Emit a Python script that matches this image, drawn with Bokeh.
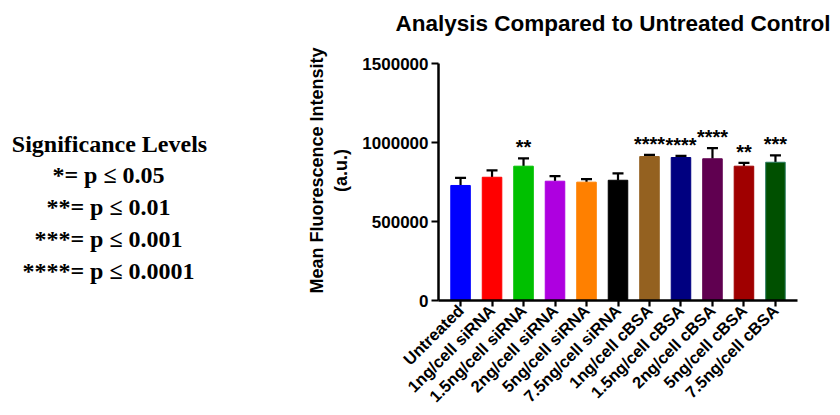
from math import pi
from bokeh.plotting import figure
from bokeh.layouts import row
from bokeh.models import (FactorRange, Whisker, TeeHead, ColumnDataSource, Label,
                          FixedTicker, NumeralTickFormatter, Range1d)
from bokeh.embed import file_html
from bokeh.resources import INLINE
from bokeh.core.properties import value

categories = ["Untreated", "1ng/cell siRNA", "1.5ng/cell siRNA", "2ng/cell siRNA",
              "5ng/cell siRNA", "7.5ng/cell siRNA", "1ng/cell cBSA", "1.5ng/cell cBSA",
              "2ng/cell cBSA", "5ng/cell cBSA", "7.5ng/cell cBSA"]
means = [728000, 780000, 850000, 755000, 749000, 761000, 911000, 905000, 897000, 850000, 875000]
errors = [48000, 43000, 50000, 32000, 19000, 43000, 11000, 10000, 67000, 21000, 43000]
stars = ["", "", "**", "", "", "", "****", "****", "****", "**", "***"]
colors = ["#0000FF", "#FF0000", "#00C000", "#AE00E0", "#FF8000", "#000000",
          "#946120", "#000080", "#600050", "#A00000", "#005000"]
edge_colors = ["#0000FF", "#FF0000", "#00C000", "#AE00E0", "#FF8000", "#000000",
               "#946120", "#000080", "#600050", "#A00000", "#2A7A60"]
y_ticks = [0, 500000, 1000000, 1500000]
y_max = 1500000
legend_title = "Significance Levels"
legend_lines = ["*= p \u2264 0.05", "**= p \u2264 0.01", "***= p \u2264 0.001", "****= p \u2264 0.0001"]

H = 415
LEFT_W, MAIN_W = 300, 540
FONT = "Liberation Sans"
SERIF = "Liberation Serif"

# layout geometry (pixels from top of page)
FRAME_TOP = 40        # plot frame top (extra room above the axis for the title)
AXIS_TOP = 63         # where y_max sits
FRAME_BOTTOM = 300    # where 0 sits
y_end = y_max * (FRAME_BOTTOM - FRAME_TOP) / (FRAME_BOTTOM - AXIS_TOP)

# ---- left panel: significance legend (frame is aligned with the main frame) ----
lp = figure(width=LEFT_W, height=H, output_backend="svg", toolbar_location=None,
            x_range=Range1d(0, LEFT_W), y_range=Range1d(FRAME_BOTTOM, FRAME_TOP),
            x_axis_type=None, y_axis_type=None, min_border=0)
lp.outline_line_color = None
lp.grid.visible = False
lp.add_layout(Label(x=109, y=143, text=legend_title, text_align="center",
                    text_baseline="middle", text_font=SERIF, text_font_style="bold",
                    text_font_size="24px", text_color="black"))
for i, t in enumerate(legend_lines):
    lp.add_layout(Label(x=108, y=174 + 32 * i, text=t, text_align="center",
                        text_baseline="middle", text_font=SERIF,
                        text_font_style="bold", text_font_size="24px",
                        text_color="black"))

# ---- main bar chart ----
src = ColumnDataSource(dict(
    x=categories, top=means,
    upper=[m + e for m, e in zip(means, errors)],
    stars=stars, color=colors, edge=edge_colors))

p = figure(width=MAIN_W, height=H, output_backend="svg", toolbar_location=None,
           x_range=FactorRange(factors=categories, range_padding=0.2,
                               range_padding_units="absolute"),
           y_range=Range1d(0, y_end),
           min_border_left=138, min_border_right=43, min_border_top=FRAME_TOP,
           min_border_bottom=H - FRAME_BOTTOM,
           title="Analysis Compared to Untreated Control")
p.outline_line_color = None
p.grid.visible = False
p.background_fill_color = "white"
p.border_fill_color = "white"

p.title.text_font = FONT
p.title.text_font_size = "22.5px"
p.title.text_font_style = "bold"
p.title.text_color = "black"
p.title.align = "left"
p.title.offset = -43
p.title.standoff = 10

p.vbar(x="x", top="top", width=0.62, source=src, fill_color="color",
       line_color="edge", line_width=1)

wh = Whisker(base="x", upper="upper", lower="top", source=src,
             line_color="black", line_width=2.2,
             upper_head=TeeHead(size=11, line_width=2.2, line_color="black"),
             lower_head=None)
p.add_layout(wh)

p.text(x="x", y="upper", text="stars", source=src, text_align="center",
       text_baseline="alphabetic", y_offset=-11, text_font=value(FONT),
       text_font_style="bold", text_font_size="20px", text_color="black")

yax = p.yaxis[0]
yax.ticker = FixedTicker(ticks=y_ticks)
yax.bounds = (0, y_max)
yax.formatter = NumeralTickFormatter(format="0")
yax.axis_line_width = 2.5
yax.axis_line_color = "black"
yax.major_tick_line_width = 2.2
yax.major_tick_line_color = "black"
yax.major_tick_out = 7
yax.major_tick_in = 0
yax.minor_tick_line_color = None
yax.major_label_text_font = FONT
yax.major_label_text_font_style = "bold"
yax.major_label_text_font_size = "17px"
yax.major_label_text_color = "black"
yax.major_label_standoff = 3
yax.axis_label = "Mean Fluorescence Intensity\n(a.u.)"
yax.axis_label_text_font = FONT
yax.axis_label_text_font_style = "bold"
yax.axis_label_text_font_size = "18px"
yax.axis_label_text_color = "black"
yax.axis_label_standoff = 8

xax = p.xaxis[0]
xax.axis_line_width = 2.5
xax.axis_line_color = "black"
xax.major_tick_line_width = 2.2
xax.major_tick_line_color = "black"
xax.major_tick_out = 6
xax.major_tick_in = 0
xax.major_label_orientation = pi / 4
xax.major_label_text_font = FONT
xax.major_label_text_font_style = "bold"
xax.major_label_text_font_size = "16.5px"
xax.major_label_text_color = "black"
xax.major_label_standoff = 1

layout = row(lp, p, spacing=0)
open("out.html", "w").write(file_html(layout, INLINE))
